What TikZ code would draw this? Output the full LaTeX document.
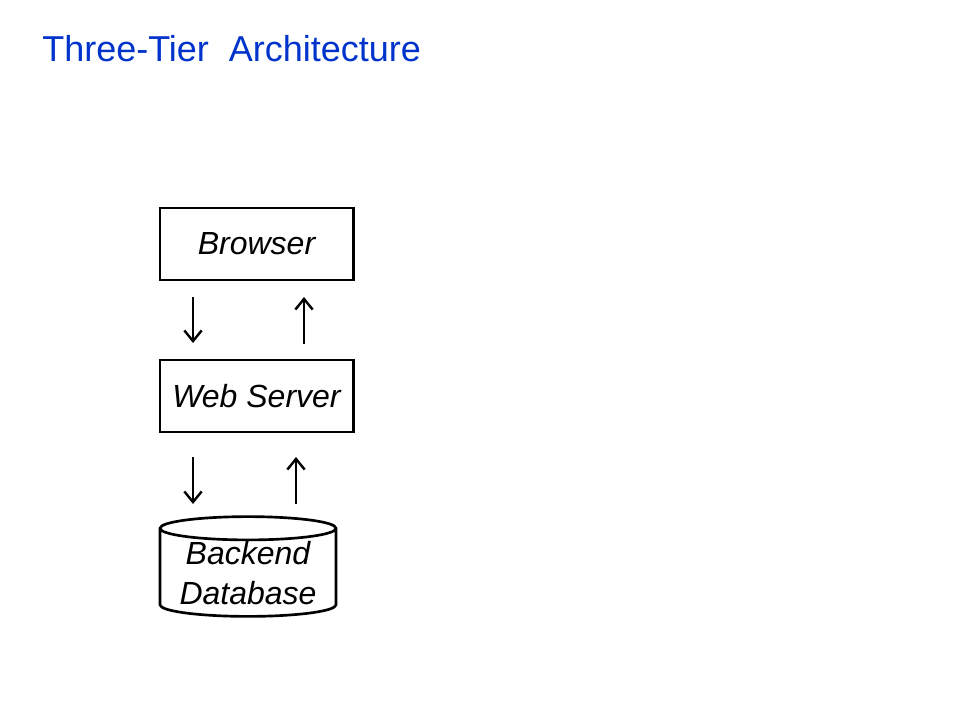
\documentclass[tikz,border=0pt]{standalone}
\usepackage{fontspec}
\setmainfont{Liberation Sans}
\usetikzlibrary{arrows.meta,shapes.geometric}
\definecolor{titleblue}{HTML}{0033CC}

\tikzstyle{tier}=[shape=rectangle,draw=black,line width=2pt,inner sep=0pt,font=\fontsize{24}{30}\selectfont\itshape]
\tikzstyle{boxtier}=[tier,minimum width=145pt,minimum height=54pt]
\tikzstyle{dbtier}=[tier,shape=cylinder,shape border rotate=90,aspect=0.17,minimum width=132pt,minimum height=72pt,align=center]
\tikzstyle{flow}=[-{Straight Barb[length=8pt,width=13pt]},line width=1.8pt]

\begin{document}
\begin{tikzpicture}[x=0.75pt,y=-0.75pt]
\useasboundingbox (0,0) rectangle (960,720);
% title
\node[anchor=base west,text=titleblue,font=\fontsize{27}{32}\selectfont,inner sep=0pt] (title) at (42,62) {Three-Tier\ \ Architecture};
% tiers
\node[boxtier] (browser) at (256.5,244) {Browser};
\node[boxtier] (webserver) at (256.5,396) {Web Server};
\node[dbtier] (database) at (248,573) {Backend\\Database};
% browser <-> web server
\coordinate (req1s) at (193,297);
\coordinate (req1e) at (193,343);
\coordinate (res1s) at (304,344);
\coordinate (res1e) at (304,297);
\draw[flow] (req1s) -- (req1e);
\draw[flow] (res1s) -- (res1e);
% web server <-> database
\coordinate (req2s) at (193,457);
\coordinate (req2e) at (193,504);
\coordinate (res2s) at (296,504);
\coordinate (res2e) at (296,457);
\draw[flow] (req2s) -- (req2e);
\draw[flow] (res2s) -- (res2e);
\end{tikzpicture}
\end{document}
